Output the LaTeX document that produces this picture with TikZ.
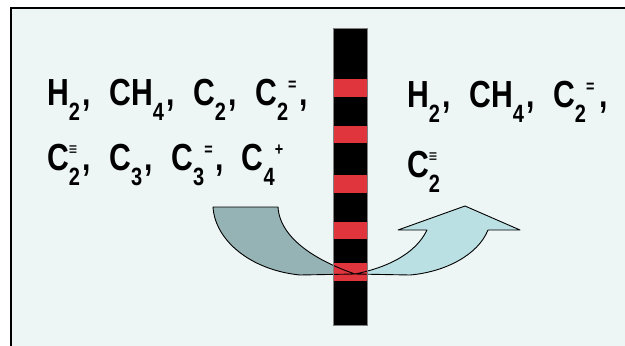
\documentclass[tikz,border=0pt]{standalone}
\usepackage{fontspec}
\setmainfont{Liberation Sans}
\usepackage{graphicx}
\definecolor{panel}{HTML}{EEF6F5}
\definecolor{stripe}{HTML}{E0353D}
\definecolor{arrowL}{HTML}{95B3B4}
\definecolor{arrowR}{HTML}{BAE0E4}
\newcommand\subd[1]{\raisebox{-15pt}{\fontsize{25}{25}\selectfont #1}}
\newcommand\supd[1]{\raisebox{15pt}{\fontsize{18}{18}\selectfont #1}}
\newcommand\mol[3]{#1\subd{#2}\supd{#3}}
\newcommand\molst[3]{#1\rlap{\supd{#3}}\subd{#2}}
\newcommand\gap{\hspace{3pt},\hspace{23pt}}
\tikzset{
  formula/.style={anchor=base west, inner sep=0pt, font=\fontsize{37.7}{40}\selectfont\bfseries},
  piece/.style={draw=black, line width=0.9pt, line join=round}
}
\begin{document}
\begin{tikzpicture}[x=1pt,y=-1pt]
\useasboundingbox (0,0) rectangle (625,346);
\fill[white] (0,0) rectangle (625,346);
\fill[panel] (11,8) rectangle (625,346);
\draw[line width=2pt, black] (11,346) -- (11,8) -- (625,8);
% bar
\fill[black] (333,28) rectangle (367,325);
\foreach \a/\b in {79/97,126/143,175/193,222/239,263/281}
  \fill[stripe] (333,\a) rectangle (367,\b);
% arrow fills
\path[fill=arrowL] (213,207) -- (278,207) .. controls (280,240) and (320,262) .. (355,274) -- (300,275) .. controls (250,270) and (215,240) .. (213,207) -- cycle;
\path[fill=arrowR] (355,274) -- (410,275) .. controls (445,272) and (478,255) .. (488,230) -- (520,230) -- (465,206) -- (398,230) -- (427,230) .. controls (415,255) and (385,268) .. (355,274) -- cycle;
% bar over the fills
\fill[black] (333,260) rectangle (367,325);
\fill[stripe] (333,263) rectangle (367,281);
% outlines
\draw[piece] (213,207) -- (278,207) .. controls (280,240) and (320,262) .. (355,274) -- (300,275) .. controls (250,270) and (215,240) .. (213,207) -- cycle;
\draw[piece] (355,274) -- (410,275) .. controls (445,272) and (478,255) .. (488,230) -- (520,230) -- (465,206) -- (398,230) -- (427,230) .. controls (415,255) and (385,268) .. (355,274) -- cycle;
\draw[gray, line width=0.6pt] (333,28) rectangle (367,325);
% texts
\node[formula] (l1) at (47,105) {\scalebox{0.8}[1]{\mol{H}{2}{}\gap C\mol{H}{4}{}\gap\mol{C}{2}{}\gap\mol{C}{2}{=}\hspace{4pt},}};
\node[formula] (l2) at (47,170) {\scalebox{0.8}[1]{\molst{C}{2}{≡}\gap\mol{C}{3}{}\gap\mol{C}{3}{=}\gap\mol{C}{4}{+}}};
\node[formula] (r1) at (407,107) {\scalebox{0.8}[1]{\mol{H}{2}{}\gap C\mol{H}{4}{}\gap\mol{C}{2}{=}\hspace{6pt},}};
\node[formula] (r2) at (407,177) {\scalebox{0.8}[1]{\molst{C}{2}{≡}}};
\end{tikzpicture}
\end{document}
